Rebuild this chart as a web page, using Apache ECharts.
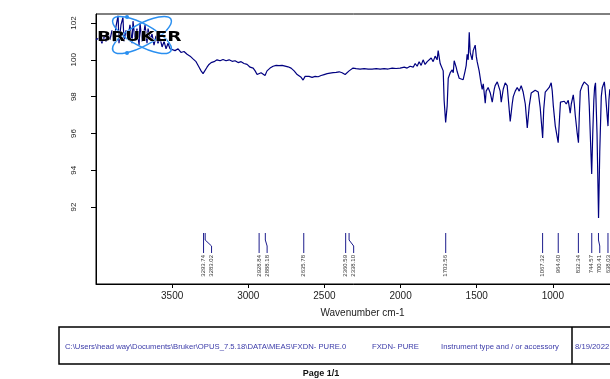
<!DOCTYPE html>
<html>
<head>
<meta charset="utf-8">
<script src="https://cdn.jsdelivr.net/npm/echarts@6/dist/echarts.min.js"></script>
<style>
  html, body { margin: 0; background: #fff; }
  #chart { width: 610px; height: 379px; }
</style>
</head>
<body>
<div id="chart"></div>
<script>
// spectrum (wavenumber cm-1 / transmittance %)
const wavenumbers = [
  4000, 3987, 3974, 3961, 3947, 3934, 3921, 3908, 3895, 3882, 3869, 3855, 3849, 3836, 3823, 3816,
  3803, 3790, 3777, 3763, 3757, 3744, 3731, 3717, 3711, 3698, 3685, 3678, 3665, 3658, 3645, 3632,
  3619, 3606, 3593, 3580, 3566, 3553, 3540, 3527, 3514, 3501, 3481, 3461, 3442, 3422, 3402, 3382,
  3363, 3343, 3323, 3310, 3297, 3284, 3271, 3258, 3244, 3225, 3205, 3185, 3166, 3146, 3126, 3106,
  3087, 3067, 3047, 3028, 3008, 2988, 2968, 2955, 2942, 2929, 2916, 2903, 2890, 2877, 2857, 2837,
  2817, 2798, 2778, 2758, 2739, 2719, 2699, 2679, 2666, 2653, 2640, 2627, 2614, 2601, 2581, 2561,
  2541, 2522, 2502, 2482, 2463, 2443, 2423, 2403, 2384, 2364, 2351, 2338, 2325, 2312, 2292, 2266,
  2239, 2213, 2187, 2160, 2134, 2108, 2082, 2055, 2029, 2003, 1976, 1957, 1937, 1917, 1904, 1891,
  1878, 1865, 1852, 1839, 1825, 1812, 1799, 1786, 1773, 1760, 1753, 1740, 1727, 1720, 1714, 1704,
  1694, 1687, 1674, 1661, 1654, 1648, 1635, 1628, 1615, 1602, 1589, 1576, 1569, 1563, 1556, 1549,
  1543, 1530, 1523, 1510, 1503, 1497, 1484, 1477, 1471, 1464, 1457, 1444, 1438, 1425, 1411, 1398,
  1385, 1379, 1365, 1359, 1346, 1339, 1326, 1313, 1300, 1293, 1280, 1267, 1260, 1247, 1234, 1221,
  1208, 1195, 1181, 1168, 1155, 1142, 1129, 1116, 1103, 1096, 1083, 1067, 1060, 1050, 1037, 1024,
  1011, 1004, 997, 984, 965, 955, 950, 938, 925, 912, 899, 886, 879, 866, 859, 853,
  840, 832, 827, 820, 807, 794, 781, 768, 761, 745, 738, 731, 726, 720, 710, 700,
  692, 682, 675, 662, 656, 638, 632, 626, 615, 602
];
const transmittance = [
  101.1, 101.0, 101.2, 100.9, 101.3, 101.0, 101.4, 101.1, 101.6, 101.0, 101.8, 102.4, 100.9, 101.9, 102.3, 101.0,
  101.6, 101.2, 101.9, 100.9, 102.1, 101.1, 101.7, 100.8, 102.0, 101.0, 101.5, 101.9, 100.9, 101.7, 101.1, 101.4,
  100.8, 101.3, 100.9, 101.2, 100.7, 101.0, 100.6, 100.9, 100.6, 100.7, 100.5, 100.6, 100.4, 100.45, 100.3, 100.2,
  100.05, 99.9, 99.6, 99.4, 99.25, 99.35, 99.6, 99.75, 99.85, 99.9, 100.0, 99.95, 100.02, 99.95, 100.0, 99.92,
  99.95, 99.85, 99.9, 99.8, 99.75, 99.6, 99.55, 99.4, 99.2, 99.1, 99.3, 99.35, 99.15, 99.4, 99.55, 99.65,
  99.7, 99.68, 99.7, 99.66, 99.62, 99.55, 99.4, 99.2, 99.25, 99.05, 98.9, 99.1, 99.0, 99.1, 99.05, 99.1,
  99.08, 99.15, 99.2, 99.25, 99.28, 99.3, 99.32, 99.35, 99.3, 99.2, 99.3, 99.4, 99.5, 99.55, 99.52, 99.5,
  99.52, 99.5, 99.5, 99.52, 99.5, 99.52, 99.5, 99.55, 99.53, 99.55, 99.6, 99.55, 99.65, 99.6, 99.8, 99.65,
  99.9, 99.7, 100.0, 99.75, 99.9, 99.8, 100.1, 99.9, 100.2, 100.0, 100.5, 99.8, 99.9, 99.4, 97.8, 96.6,
  97.5, 99.0, 99.3, 99.45, 99.3, 99.95, 99.6, 99.35, 99.0, 98.9, 98.92, 99.4, 99.7, 100.3, 100.0, 101.5,
  100.4, 100.0, 100.5, 100.8, 100.2, 99.9, 99.4, 99.3, 98.7, 98.4, 98.7, 97.65, 98.3, 98.5, 98.2, 97.7,
  98.4, 98.6, 98.8, 98.75, 98.3, 97.7, 98.4, 98.75, 98.6, 98.5, 96.65, 97.6, 98.0, 98.3, 98.5, 98.3,
  98.6, 98.25, 97.6, 96.3, 97.5, 98.2, 98.3, 98.35, 98.3, 98.25, 97.4, 95.75, 97.3, 98.25, 98.2, 98.5,
  98.75, 98.3, 97.5, 96.4, 95.5, 97.0, 97.7, 97.8, 97.75, 97.6, 97.8, 97.1, 97.6, 98.1, 97.6, 97.0,
  96.0, 95.5, 96.8, 98.3, 98.6, 98.8, 98.7, 98.6, 97.5, 93.8, 96.0, 97.8, 98.5, 98.75, 96.0, 91.4,
  95.0, 98.0, 98.5, 98.8, 98.3, 96.4, 97.8, 98.4, 97.9, 98.2
];
const peakPositions = [3293.74, 3283.02, 2928.84, 2888.18, 2635.78, 2360.59, 2338.10,
  1703.56, 1067.32, 964.60, 832.34, 744.57, 700.41, 638.03];
const xTicks = [3500, 3000, 2500, 2000, 1500, 1000];
const yTicks = [92, 94, 96, 98, 100, 102];
const footerTexts = ['C:\\Users\\head way\\Documents\\Bruker\\OPUS_7.5.18\\DATA\\MEAS\\FXDN- PURE.0',
  'FXDN- PURE', 'Instrument type and / or accessory', '8/19/2022'];

const chart = echarts.init(document.getElementById('chart'));
const font = 'Liberation Sans, Arial, sans-serif';
const orbit = '#2a8ff0';
const footerBlue = '#3a3aa8';

const option = {
  animation: false,
  backgroundColor: '#fff',
  grid: {
    left: 96, top: 14, width: 533, height: 270,
    outerBoundsMode: 'none',
    show: true, borderColor: '#000', borderWidth: 1
  },
  xAxis: {
    type: 'value',
    inverse: true,
    min: 500,
    max: 4000,
    name: 'Wavenumber cm-1',
    nameLocation: 'middle',
    nameGap: 24,
    nameTextStyle: { fontSize: 10, color: '#222', fontFamily: font },
    axisLine: { lineStyle: { color: '#000', width: 1 } },
    axisTick: { customValues: xTicks, length: 4, lineStyle: { color: '#000' } },
    axisLabel: { customValues: xTicks, fontSize: 10, color: '#222', margin: 7, fontFamily: font,
      formatter: v => String(v) },
    splitLine: { show: false }
  },
  yAxis: {
    type: 'value',
    min: 87.82,
    max: 102.49,
    axisLine: { show: true, lineStyle: { color: '#000', width: 1 } },
    axisTick: { show: true, customValues: yTicks, length: 5, lineStyle: { color: '#000' } },
    axisLabel: { customValues: yTicks, rotate: 90, fontSize: 8, color: '#222', margin: 18, fontFamily: font,
      formatter: v => String(v) },
    splitLine: { show: false }
  },
  series: [
    {
      type: 'line',
      data: wavenumbers.map((w, i) => [w, transmittance[i]]),
      showSymbol: false,
      lineStyle: { color: '#000080', width: 1.2 },
      z: 3
    },
    {
      type: 'custom',
      data: peakPositions.map(p => [p, 90]),
      encode: { x: 0, y: 1 },
      z: 4,
      renderItem: function (params, api) {
        const cs = params.coordSys;
        const bottom = cs.y + cs.height;
        const xs = peakPositions.map(p => api.coord([p, 90])[0]);
        const lx = [];
        xs.forEach((x, i) => lx.push(i === 0 ? x : Math.max(x, lx[i - 1] + 8)));
        const i = params.dataIndex;
        return {
          type: 'group',
          children: [
            {
              type: 'polyline',
              shape: { points: [[xs[i], bottom - 51], [xs[i], bottom - 44], [lx[i], bottom - 38], [lx[i], bottom - 31]] },
              style: { stroke: '#1c1c8c', lineWidth: 1, fill: null }
            },
            {
              type: 'text',
              x: lx[i], y: bottom - 29,
              rotation: Math.PI / 2,
              style: {
                text: peakPositions[i].toFixed(2), fontSize: 6, fill: '#333',
                align: 'right', verticalAlign: 'middle', fontFamily: font
              }
            }
          ]
        };
      }
    }
  ],
  graphic: [
    // Bruker logo
    { type: 'ellipse', x: 142, y: 35, rotation: -0.5, shape: { cx: 0, cy: 0, rx: 33, ry: 11 },
      style: { stroke: orbit, lineWidth: 1.5, fill: null }, z: 10 },
    { type: 'ellipse', x: 142, y: 35, rotation: 0.5, shape: { cx: 0, cy: 0, rx: 33, ry: 11 },
      style: { stroke: orbit, lineWidth: 1.5, fill: null }, z: 10 },
    { type: 'circle', shape: { cx: 127, cy: 17, r: 2 }, style: { fill: orbit }, z: 10 },
    { type: 'circle', shape: { cx: 127, cy: 53, r: 2 }, style: { fill: orbit }, z: 10 },
    { type: 'text', x: 97, y: 37, scaleX: 1.32, z: 11,
      style: { text: 'BRUKER', fontSize: 14, fontWeight: 'bold', fontFamily: 'DejaVu Sans',
        fill: '#000', stroke: '#fff', lineWidth: 0.6, verticalAlign: 'middle' } },
    // footer table
    { type: 'rect', shape: { x: 59, y: 327, width: 600, height: 37 },
      style: { stroke: '#000', lineWidth: 1.5, fill: null } },
    { type: 'line', shape: { x1: 572, y1: 327, x2: 572, y2: 364 },
      style: { stroke: '#000', lineWidth: 1.5 } },
    { type: 'text', x: 65, y: 347, style: { text: footerTexts[0], fontSize: 7.7, fill: footerBlue, fontFamily: font, verticalAlign: 'middle' } },
    { type: 'text', x: 372, y: 347, style: { text: footerTexts[1], fontSize: 7.7, fill: footerBlue, fontFamily: font, verticalAlign: 'middle' } },
    { type: 'text', x: 441, y: 347, style: { text: footerTexts[2], fontSize: 7.7, fill: footerBlue, fontFamily: font, verticalAlign: 'middle' } },
    { type: 'text', x: 575, y: 347, style: { text: footerTexts[3], fontSize: 7.7, fill: footerBlue, fontFamily: font, verticalAlign: 'middle' } },
    { type: 'text', x: 321, y: 374, style: { text: 'Page 1/1', fontSize: 9, fontWeight: 'bold', fill: '#111',
      fontFamily: font, align: 'center', verticalAlign: 'middle' } }
  ]
};

chart.setOption(option);
</script>
</body>
</html>
